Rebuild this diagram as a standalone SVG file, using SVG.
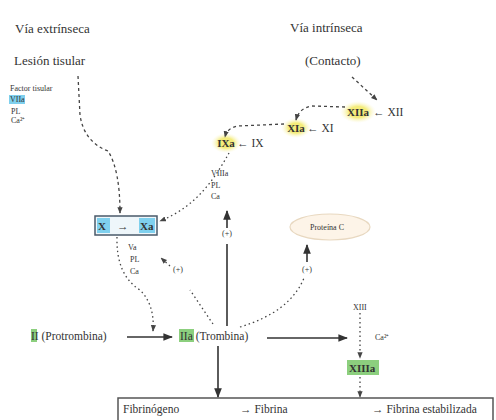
<svg xmlns="http://www.w3.org/2000/svg" width="496" height="420" viewBox="0 0 496 420">
<defs>
<marker id="ah" viewBox="0 0 10 10" refX="9" refY="5" markerWidth="6" markerHeight="6" orient="auto"><path d="M0,1 L10,5 L0,9 z" fill="#333"/></marker>
<marker id="ahs" viewBox="0 0 10 10" refX="9" refY="5" markerWidth="5" markerHeight="5" orient="auto"><path d="M0,1 L10,5 L0,9 z" fill="#444"/></marker>
<radialGradient id="yg"><stop offset="0.5" stop-color="#f4ec7a"/><stop offset="1" stop-color="#fbf8d8" stop-opacity="0"/></radialGradient>
</defs>
<style>
text{font-family:"Liberation Serif","Times New Roman",serif;fill:#333}
.big{font-size:13px}
.lab{font-size:11px;font-weight:bold}
.sm{font-size:8px}
.row{font-size:11.5px}
.dash{fill:none;stroke:#444;stroke-width:1.3;stroke-dasharray:3 3}
.dot{fill:none;stroke:#444;stroke-width:1.3;stroke-dasharray:1.5 3}
.solid{fill:none;stroke:#333;stroke-width:1.6}
.yel{fill:url(#yg)}
.blue{fill:#7fd0ee}
.green{fill:#8ccf7e}
</style>
<rect width="496" height="420" fill="#fff"/>

<g id="extrinseca">
<text class="big" x="15" y="33">Vía extrínseca</text>
<text class="big" x="14" y="65">Lesión tisular</text>
</g>
<g id="leyenda">
<text class="sm" x="10" y="91">Factor tisular</text>
<rect class="blue" x="9" y="95" width="16" height="9"/>
<text class="sm" x="10" y="102">VIIa</text>
<text class="sm" x="11" y="114">PL</text>
<text class="sm" x="11" y="123">Ca²⁺</text>
</g>
<g id="intrinseca">
<text class="big" x="290" y="32">Vía intrínseca</text>
<text class="big" x="305" y="65">(Contacto)</text>
</g>

<g id="XII">
<ellipse class="yel" cx="358" cy="112" rx="18" ry="11"/>
<text class="lab" x="358" y="116" text-anchor="middle">XIIa</text>
<text class="row" x="373" y="116">← XII</text>
</g>
<g id="XI">
<ellipse class="yel" cx="296" cy="128" rx="15" ry="10"/>
<text class="lab" x="296" y="132" text-anchor="middle">XIa</text>
<text class="row" x="307" y="132">← XI</text>
</g>
<g id="IX">
<ellipse class="yel" cx="226" cy="143" rx="15" ry="10"/>
<text class="lab" x="226" y="147" text-anchor="middle">IXa</text>
<text class="row" x="237" y="147">← IX</text>
</g>
<g id="VIIIa">
<text class="sm" x="211" y="176">VIIIa</text>
<text class="sm" x="211" y="188">PL</text>
<text class="sm" x="211" y="199">Ca</text>
</g>

<g id="X">
<rect x="95" y="216" width="62" height="19" fill="#eef6fa" stroke="#4a5a6a" stroke-width="1.5"/>
<rect class="blue" x="97" y="218" width="13" height="15"/>
<rect class="blue" x="139" y="218" width="16" height="15"/>
<text class="lab" x="98" y="230">X</text>
<text class="row" x="117" y="230">→</text>
<text class="lab" x="140" y="230">Xa</text>
</g>
<g id="Va">
<text class="sm" x="128" y="250">Va</text>
<text class="sm" x="130" y="262">PL</text>
<text class="sm" x="130" y="274">Ca</text>
</g>

<g id="proteinaC">
<ellipse cx="330" cy="227" rx="40" ry="13" fill="#fdf4e8" stroke="#e8d8c0" stroke-width="1.2"/>
<text class="sm" x="327" y="230" text-anchor="middle">Proteína C</text>
</g>

<g id="II">
<rect class="green" x="31" y="329" width="6" height="13"/>
<text class="row" x="31" y="340">II (Protrombina)</text>
</g>
<g id="IIa">
<rect class="green" x="179" y="329" width="15" height="13"/>
<text class="row" x="180" y="340">IIa (Trombina)</text>
</g>
<g id="XIII">
<text class="sm" x="353" y="310">XIII</text>
<text class="sm" x="375" y="340">Ca²⁺</text>
<rect class="green" x="347" y="360" width="32" height="15"/>
<text class="lab" x="349" y="372">XIIIa</text>
</g>
<g id="fibrina">
<rect x="118" y="398" width="375" height="26" fill="#fff" stroke="#555" stroke-width="1.5"/>
<text class="row" x="123" y="413">Fibrinógeno</text>
<text class="row" x="240" y="413">→ Fibrina</text>
<text class="row" x="372" y="413">→ Fibrina estabilizada</text>
</g>

<g id="feedback">
<text class="sm" x="227" y="236" text-anchor="middle">(+)</text>
<text class="sm" x="178" y="272" text-anchor="middle">(+)</text>
<text class="sm" x="307" y="272" text-anchor="middle">(+)</text>
</g>

<g id="connectors">
<path class="dash" d="M78,76 L80,115 Q84,142 108,151 Q120,170 120,213" marker-end="url(#ahs)"/>
<path class="dash" d="M352,77 L377,100" marker-end="url(#ahs)"/>
<path class="dash" d="M345,107 L312,106 Q299,108 296,120" marker-end="url(#ahs)"/>
<path class="dash" d="M284,124 L238,126 Q227,128 225,137" marker-end="url(#ahs)"/>
<path class="dot" d="M229,153 C216,176 198,206 160,221" marker-end="url(#ahs)"/>
<path class="dot" d="M117,237 Q116,275 140,290 Q155,305 153,331" marker-end="url(#ahs)"/>
<path class="dot" d="M213,324 L190,290" />
<path class="dot" d="M170,266 L161,258" marker-end="url(#ahs)"/>
<path class="solid" d="M227,326 L227,244"/>
<path class="solid" d="M227,228 L227,211" marker-end="url(#ah)"/>
<path class="dot" d="M240,327 Q290,312 304,278"/>
<path class="solid" d="M307,262 L307,245" marker-end="url(#ah)"/>
<path class="solid" d="M127,337 L172,337" marker-end="url(#ah)"/>
<path class="solid" d="M267,338 L347,338" marker-end="url(#ah)"/>
<path class="solid" d="M218,346 L218,397" marker-end="url(#ah)"/>
<path class="dot" d="M360,313 L360,358" marker-end="url(#ahs)"/>
<path class="dot" d="M360,377 L360,397" marker-end="url(#ahs)"/>
</g>
</svg>
